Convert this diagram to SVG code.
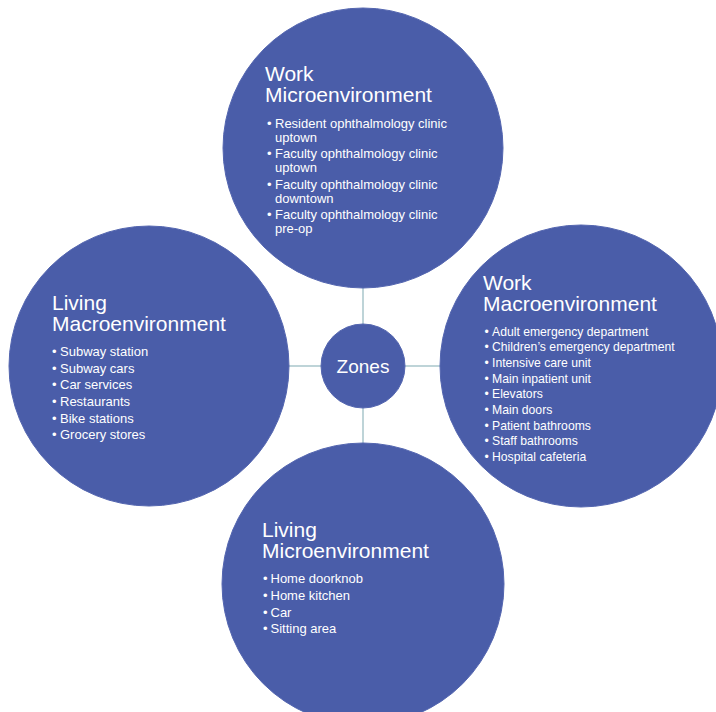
<svg xmlns="http://www.w3.org/2000/svg" width="716" height="712" viewBox="0 0 716 712">
<style>
.c{fill:#4a5da9;stroke:#5466b0;stroke-width:1}
.t{fill:#ffffff;font-family:"Liberation Sans",Arial,sans-serif;font-size:21px}
.b{fill:#ffffff;font-family:"Liberation Sans",Arial,sans-serif;font-size:13px}
.bs{fill:#ffffff;font-family:"Liberation Sans",Arial,sans-serif;font-size:12.2px}
.z{fill:#ffffff;font-family:"Liberation Sans",Arial,sans-serif;font-size:19px}
.l{stroke:#a8c6cb;stroke-width:1.5;fill:none}
</style>
<rect width="716" height="712" fill="#ffffff"/>
<g id="connectors">
<line class="l" x1="363" y1="287" x2="363" y2="324"/>
<line class="l" x1="363" y1="408" x2="363" y2="444"/>
<line class="l" x1="287" y1="366" x2="321" y2="366"/>
<line class="l" x1="405" y1="366" x2="441" y2="366"/>
</g>
<g id="work-micro">
<circle class="c" cx="363" cy="148" r="140"/>
<text class="t" x="265" y="81">Work</text>
<text class="t" x="265" y="102">Microenvironment</text>
<g class="b">
<text x="267" y="127.5">•</text><text x="275" y="127.5">Resident ophthalmology clinic</text>
<text x="275" y="141.5">uptown</text>
<text x="267" y="158">•</text><text x="275" y="158">Faculty ophthalmology clinic</text>
<text x="275" y="172">uptown</text>
<text x="267" y="188.5">•</text><text x="275" y="188.5">Faculty ophthalmology clinic</text>
<text x="275" y="202.5">downtown</text>
<text x="267" y="219">•</text><text x="275" y="219">Faculty ophthalmology clinic</text>
<text x="275" y="233">pre-op</text>
</g>
</g>
<g id="living-macro">
<circle class="c" cx="149" cy="366" r="140"/>
<text class="t" x="52" y="310">Living</text>
<text class="t" x="52" y="331">Macroenvironment</text>
<g class="b">
<text x="52" y="356">•</text><text x="60" y="356">Subway station</text>
<text x="52" y="372.7">•</text><text x="60" y="372.7">Subway cars</text>
<text x="52" y="389.3">•</text><text x="60" y="389.3">Car services</text>
<text x="52" y="406">•</text><text x="60" y="406">Restaurants</text>
<text x="52" y="422.7">•</text><text x="60" y="422.7">Bike stations</text>
<text x="52" y="439.3">•</text><text x="60" y="439.3">Grocery stores</text>
</g>
</g>
<g id="work-macro">
<circle class="c" cx="581" cy="366" r="141"/>
<text class="t" x="483" y="289.5">Work</text>
<text class="t" x="483" y="311">Macroenvironment</text>
<g class="bs">
<text x="484.5" y="335.5">•</text><text x="492" y="335.5">Adult emergency department</text>
<text x="484.5" y="351.2">•</text><text x="492" y="351.2">Children’s emergency department</text>
<text x="484.5" y="366.9">•</text><text x="492" y="366.9">Intensive care unit</text>
<text x="484.5" y="382.6">•</text><text x="492" y="382.6">Main inpatient unit</text>
<text x="484.5" y="398.3">•</text><text x="492" y="398.3">Elevators</text>
<text x="484.5" y="414">•</text><text x="492" y="414">Main doors</text>
<text x="484.5" y="429.7">•</text><text x="492" y="429.7">Patient bathrooms</text>
<text x="484.5" y="445.4">•</text><text x="492" y="445.4">Staff bathrooms</text>
<text x="484.5" y="461.1">•</text><text x="492" y="461.1">Hospital cafeteria</text>
</g>
</g>
<g id="living-micro">
<circle class="c" cx="363" cy="584" r="141"/>
<text class="t" x="262" y="537">Living</text>
<text class="t" x="262" y="558">Microenvironment</text>
<g class="b">
<text x="263" y="583.3">•</text><text x="270.5" y="583.3">Home doorknob</text>
<text x="263" y="600">•</text><text x="270.5" y="600">Home kitchen</text>
<text x="263" y="616.7">•</text><text x="270.5" y="616.7">Car</text>
<text x="263" y="633.3">•</text><text x="270.5" y="633.3">Sitting area</text>
</g>
</g>
<g id="zones">
<circle class="c" cx="363" cy="366" r="42"/>
<text class="z" x="363" y="373" text-anchor="middle">Zones</text>
</g>
</svg>
